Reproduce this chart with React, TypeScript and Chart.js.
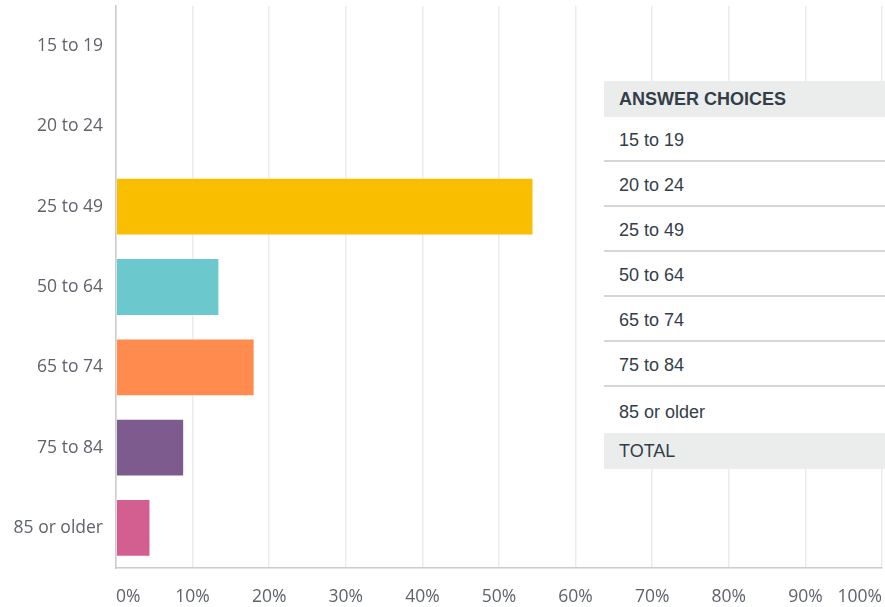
import React, { useEffect, useRef } from "react";
import { Chart, registerables } from "chart.js";

Chart.register(...registerables);

const categories = ["15 to 19", "20 to 24", "25 to 49", "50 to 64", "65 to 74", "75 to 84", "85 or older"];
const percentages = [0, 0, 54.5, 13.5, 18.1, 8.9, 4.5];
const barColors = ["#F9BE00", "#F9BE00", "#F9BE00", "#6BC8CD", "#FF8B4F", "#7D5B8E", "#D25F90"];
const tableRows = ["15 to 19", "20 to 24", "25 to 49", "50 to 64", "65 to 74", "75 to 84", "85 or older"];
const tableHeader = "ANSWER CHOICES";
const tableFooter = "TOTAL";

const TICK_FONT = "'Open Sans', sans-serif";
const TABLE_FONT = "'Liberation Sans', Arial, sans-serif";

export default function App() {
  const ref = useRef<HTMLCanvasElement | null>(null);

  useEffect(() => {
    document.body.style.margin = "0";
    if (!ref.current) return;
    const chart = new Chart(ref.current, {
      type: "bar",
      data: {
        labels: categories,
        datasets: [
          {
            data: percentages,
            backgroundColor: barColors,
            borderColor: "rgba(255,255,255,0.45)",
            borderWidth: 1,
          },
        ],
      },
      options: {
        indexAxis: "y",
        animation: false,
        responsive: false,
        layout: { padding: { top: 6, right: 3, left: 0, bottom: 0 } },
        plugins: { legend: { display: false }, tooltip: { enabled: false } },
        scales: {
          x: {
            min: 0,
            max: 100,
            ticks: {
              stepSize: 10,
              callback: (v: any) => v + "%",
              align: "inner",
              padding: 19,
              color: "#5f636b",
              font: { family: TICK_FONT, size: 17.5 },
              maxRotation: 0,
              autoSkip: false,
            },
            grid: { color: "#ebebeb", lineWidth: 1.5, drawTicks: false },
            border: { color: "#cccccc", width: 1.5 },
            afterFit: (s: any) => {
              s.height = 39;
              s.paddingLeft = 0;
              s.paddingRight = 0;
            },
          },
          y: {
            ticks: {
              padding: 13,
              color: "#5f636b",
              font: { family: TICK_FONT, size: 17.5 },
            },
            grid: { display: false, drawTicks: false },
            border: { color: "#cccccc", width: 1.5 },
            afterFit: (s: any) => {
              s.width = 116;
              s.paddingTop = 0;
              s.paddingBottom = 0;
            },
          },
        },
      },
    });
    return () => chart.destroy();
  }, []);

  const rowStyle: React.CSSProperties = {
    height: 39,
    paddingTop: 4,
    lineHeight: "39px",
    paddingLeft: 15,
    borderBottom: "2px solid #d6d6d6",
    fontSize: 18,
    color: "#333e48",
  };

  return (
    <div style={{ position: "relative", width: 885, height: 607, overflow: "hidden" }}>
      <canvas ref={ref} width={885} height={607} style={{ position: "absolute", left: 0, top: 0 }} />
      <div
        style={{
          position: "absolute",
          left: 604,
          top: 81,
          width: 281,
          background: "#ffffff",
          fontFamily: TABLE_FONT,
        }}
      >
        <div
          style={{
            height: 36,
            lineHeight: "36px",
            paddingLeft: 15,
            background: "#ebeded",
            fontWeight: "bold",
            fontSize: 18,
            color: "#333e48",
          }}
        >
          {tableHeader}
        </div>
        {tableRows.map((r, i) => (
          <div
            key={r}
            style={
              i === tableRows.length - 1
                ? { ...rowStyle, height: 42, lineHeight: "42px", borderBottom: "none" }
                : rowStyle
            }
          >
            {r}
          </div>
        ))}
        <div
          style={{
            height: 36,
            lineHeight: "36px",
            paddingLeft: 15,
            background: "#ebeded",
            fontSize: 18,
            color: "#333e48",
          }}
        >
          {tableFooter}
        </div>
      </div>
    </div>
  );
}
